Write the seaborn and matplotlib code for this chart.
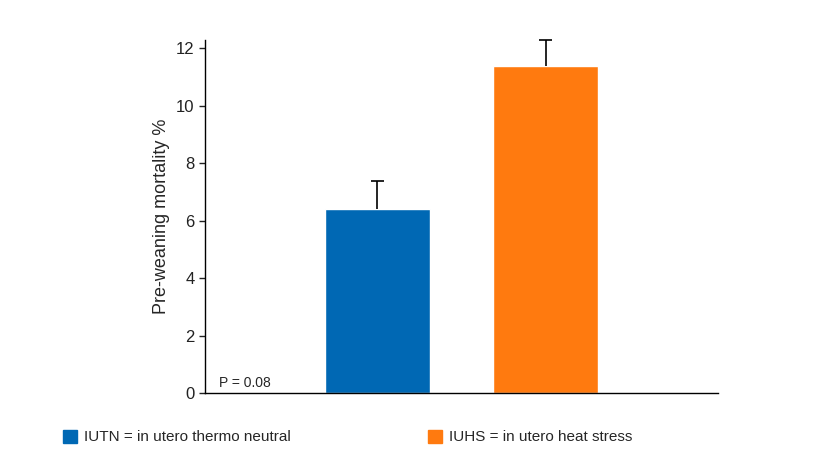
import matplotlib.pyplot as plt
import seaborn as sns
import pandas as pd
from matplotlib.patches import Patch

sns.set_theme(style='white')
plt.rcParams['font.family'] = ['Liberation Sans', 'DejaVu Sans']

groups = ['IUTN', 'IUHS']
mortality = [6.4, 11.4]
errors = [1.0, 0.9]
colors = ['#0068b4', '#ff7a0f']
labels = ['IUTN = in utero thermo neutral', 'IUHS = in utero heat stress']

df = pd.DataFrame({'group': groups, 'mortality': mortality})

fig = plt.figure(figsize=(8.2, 4.53), dpi=100)
ax = fig.add_axes([0.25, 0.132, 0.626, 0.78])
sns.barplot(data=df, x='group', y='mortality', hue='group', palette=colors,
            width=0.62, legend=False, ax=ax, saturation=1)
for i, (m, e) in enumerate(zip(mortality, errors)):
    ax.vlines(i, m, m + e, color='black', lw=1.2, zorder=1, clip_on=False)
    ax.hlines(m + e, i - 0.04, i + 0.04, color='black', lw=1.2, clip_on=False)
ax.set_xlim(-1.024, 2.026)
ax.set_ylim(0, 12.3)
ax.set_yticks(range(0, 13, 2))
ax.set_xticks([])
ax.set_xlabel('')
ax.set_ylabel('Pre-weaning mortality %', fontsize=13)
ax.tick_params(axis='y', labelsize=12, left=True, length=4, width=1, colors='#222222')
for s in ['top', 'right']:
    ax.spines[s].set_visible(False)
for s in ['left', 'bottom']:
    ax.spines[s].set_color('black')
    ax.spines[s].set_linewidth(1)
ax.text(-0.94, 0.2, 'P = 0.08', fontsize=10)

handles = [Patch(color=c) for c in colors]
fig.legend(handles[:1], labels[:1], loc='center left', bbox_to_anchor=(0.06, 0.035),
           frameon=False, fontsize=11, handlelength=0.9, handleheight=0.9, handletextpad=0.5)
fig.legend(handles[1:], labels[1:], loc='center left', bbox_to_anchor=(0.505, 0.035),
           frameon=False, fontsize=11, handlelength=0.9, handleheight=0.9, handletextpad=0.5)

fig.savefig('out.png', dpi=100)
